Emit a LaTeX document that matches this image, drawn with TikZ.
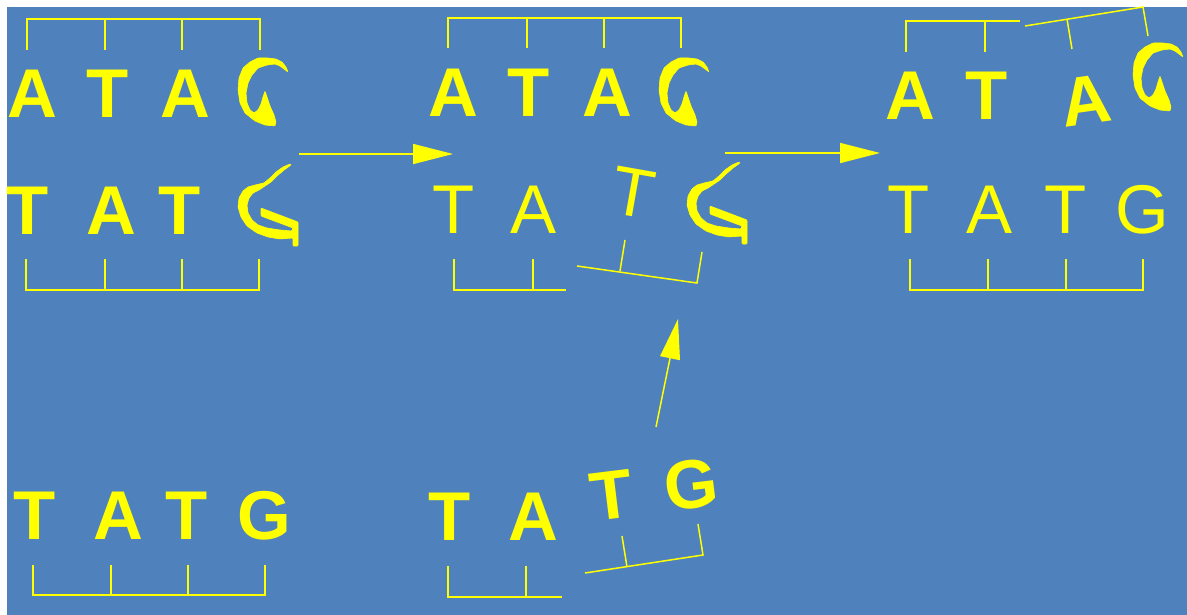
\documentclass[tikz,border=0pt]{standalone}
\usepackage{fontspec}
\setmainfont{Liberation Sans}
\usetikzlibrary{arrows.meta}
\definecolor{bg}{RGB}{79,129,189}
\definecolor{yl}{RGB}{255,255,0}
\tikzset{
  bb/.style={font=\fontsize{69}{69}\selectfont\bfseries, text=yl, inner sep=0pt},
  rg/.style={font=\fontsize{69}{69}\selectfont, text=yl, inner sep=0pt},
  brk/.style={draw=yl, line width=1.5pt},
  arr/.style={draw=yl, line width=1.5pt, -{Triangle[length=40pt,width=20pt]}},
  glyph/.style={fill=yl, draw=yl, line width=0.6pt, rounded corners=0.8pt},
  gA/.pic={\filldraw[glyph] (33,8) -- (25,12) -- (18,18) -- (14,28) -- (13,40) -- (15,53) -- (20,63) -- (30,71) -- (40,75) -- (50,76) -- (51,72) -- (49,65) -- (45,56) -- (42,47) -- (40,41) -- (38,47) -- (36,54) -- (33,60) -- (29,63) -- (25,60) -- (22,53) -- (21,43) -- (23,33) -- (27,25) -- (33,18) -- (42,15) -- (50,14) -- (55,16) -- (59,19) -- (63,22) -- (61,17) -- (57,12) -- (51,9) -- (43,8) -- cycle;},
  gB/.pic={\filldraw[glyph] (66,10) -- (59,15) -- (52,21) -- (46,27) -- (40,31) -- (34,35) -- (28,38) -- (24,43) -- (22,50) -- (23,58) -- (27,65) -- (33,70) -- (42,73) -- (55,75) -- (67,76) -- (68,73) -- (36,61) -- (36,53) -- (73,67) -- (73,91) -- (68,91) -- (68,83) -- (55,84) -- (43,82) -- (32,78) -- (22,71) -- (16,62) -- (13,52) -- (14,43) -- (18,36) -- (23,32) -- (30,30) -- (39,28) -- (45,23) -- (51,17) -- (58,12) -- (65,9) -- cycle;}
}
\begin{document}
\begin{tikzpicture}[x=1pt,y=-1pt]
\useasboundingbox (0,0) rectangle (1187,615);
\fill[bg] (7,7) rectangle (1187,615);

% ---------- panel 1 ----------
\draw[brk] (27,50) -- (27,19) -- (260,19) -- (260,50);
\draw[brk] (105,19) -- (105,50) (182,19) -- (182,50);
\node[bb] (p1a1) at (32,94) {A};
\node[bb] (p1t1) at (108,94) {T};
\node[bb] (p1a2) at (185,94) {A};
\path (225,50) pic {gA};
\node[bb] (p1t2) at (28,211) {T};
\node[bb] (p1a3) at (111,211) {A};
\node[bb] (p1t3) at (180,211) {T};
\path (225,155) pic {gB};
\draw[brk] (26,259) -- (26,290) -- (259,290) -- (259,259);
\draw[brk] (105,259) -- (105,290) (182,259) -- (182,290);

% ---------- panel 2 ----------
\draw[brk] (448,48) -- (448,18) -- (681,18) -- (681,48);
\draw[brk] (527,18) -- (527,48) (604,18) -- (604,48);
\node[bb] (p2a1) at (453,93) {A};
\node[bb] (p2t1) at (529,93) {T};
\node[bb] (p2a2) at (607,93) {A};
\path (646,50) pic {gA};
\node[rg] (p2t2) at (454,210) {T};
\node[rg] (p2a3) at (534,210) {A};
\node[rg, rotate=-10] (p2t3) at (633,193) {T};
\path (674,153) pic {gB};
\draw[brk] (454,259) -- (454,290) -- (566,290);
\draw[brk] (533,259) -- (533,290);
\draw[brk] (577,266) -- (697,283) -- (702,252);
\draw[brk] (625,240) -- (620,271);

% ---------- panel 3 ----------
\draw[brk] (906,52) -- (906,21) -- (1020,21);
\draw[brk] (985,21) -- (985,52);
\draw[brk] (1025,26) -- (1143,7) -- (1148,36);
\draw[brk] (1067,19) -- (1072,49);
\node[bb] (p3a1) at (910,96) {A};
\node[bb] (p3t1) at (987,96) {T};
\node[bb, rotate=8] (p3a2) at (1086,101) {A};
\path (1120,35) pic {gA};
\node[rg] (p3t2) at (909,210) {T};
\node[rg] (p3a3) at (990,210) {A};
\node[rg] (p3t3) at (1066,210) {T};
\node[rg] (p3g) at (1142,210) {G};
\draw[brk] (910,259) -- (910,290) -- (1143,290) -- (1143,259);
\draw[brk] (988,259) -- (988,290) (1066,259) -- (1066,290);

% ---------- bottom left ----------
\node[bb] (b1t1) at (35,516) {T};
\node[bb] (b1a) at (118,516) {A};
\node[bb] (b1t2) at (187,516) {T};
\node[bb] (b1g) at (264,516) {G};
\draw[brk] (33,565) -- (33,595) -- (265,595) -- (265,565);
\draw[brk] (111,565) -- (111,595) (188,565) -- (188,595);

% ---------- bottom middle ----------
\node[bb] (b2t1) at (450,517) {T};
\node[bb] (b2a) at (533,517) {A};
\node[bb, rotate=7] (b2t2) at (612,495) {T};
\node[bb, rotate=7] (b2g) at (691,485) {G};
\draw[brk] (448,566) -- (448,597) -- (562,597);
\draw[brk] (526,566) -- (526,597);
\draw[brk] (585,573) -- (703,555) -- (698,524);
\draw[brk] (622,536) -- (627,567);

% ---------- arrows ----------
\coordinate (a1s) at (299,154);
\coordinate (a1e) at (453,154);
\coordinate (a2s) at (725,153);
\coordinate (a2e) at (880,153);
\coordinate (a3s) at (656,427);
\coordinate (a3e) at (678,319);
\draw[arr] (a1s) -- (a1e);
\draw[arr] (a2s) -- (a2e);
\draw[arr] (a3s) -- (a3e);
\end{tikzpicture}
\end{document}
